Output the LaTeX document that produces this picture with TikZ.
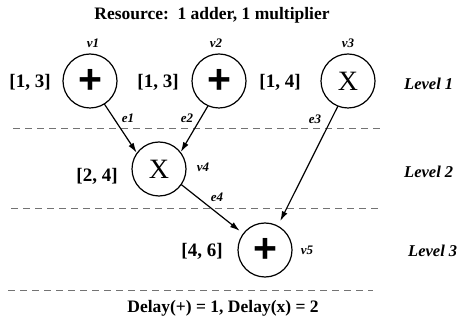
\documentclass[tikz,border=0pt]{standalone}
\usepackage{fontspec}
\setmainfont{Liberation Serif}
\newfontfamily\plusfont{Liberation Sans}
\usetikzlibrary{arrows.meta}

\begin{document}
\begin{tikzpicture}[x=1pt, y=-1pt, >={Latex[length=10pt,width=6pt]}, line cap=round, line join=round,
	opnode/.style={draw, circle, line width=1.2pt, minimum size=54pt, inner sep=0pt},
	addop/.style={opnode, font=\plusfont\bfseries\fontsize{41}{41}\selectfont},
	mulop/.style={opnode, font=\fontsize{28}{28}\selectfont},
	steprange/.style={font=\bfseries\fontsize{19}{19}\selectfont},
	vtag/.style={font=\bfseries\itshape\fontsize{13}{13}\selectfont},
	lvl/.style={anchor=west, inner xsep=0pt, font=\bfseries\itshape\fontsize{16.5}{16.5}\selectfont},
	levelsep/.style={black!55, line width=1pt, line cap=butt, dash pattern=on 7pt off 5pt},
	dep/.style={->, line width=1.2pt}]

\useasboundingbox (0,0) rectangle (457,328);

% ==== header and footer ====
\node[font=\bfseries\fontsize{17.5}{17.5}\selectfont] (title) at (212,15) {Resource:\ \ 1 adder, 1 multiplier};
\node[font=\bfseries\fontsize{17.5}{17.5}\selectfont] (delay) at (223,308) {Delay(+) = 1, Delay(x) = 2};

% ==== level separators ====
\draw[levelsep] (13,129) -- (380,129);
\draw[levelsep] (11,209) -- (378,209);
\draw[levelsep] (8,290) -- (373,290);

% ==== operations ====
\node[addop] (v1) at (90,81) {+};
\node[addop] (v2) at (219,81) {+};
\node[mulop] (v3) at (348,81) {X};
\node[mulop] (v4) at (159,169) {X};
\node[addop] (v5) at (265,250) {+};

% node names
\node[vtag] (t1) at (93,43) {v1};
\node[vtag] (t2) at (216,43) {v2};
\node[vtag] (t3) at (348,43) {v3};
\node[vtag] (t4) at (203,167) {v4};
\node[vtag] (t5) at (307,250) {v5};

% ASAP/ALAP ranges
\node[steprange] (r1) at (30,82) {[1, 3]};
\node[steprange] (r2) at (158,82) {[1, 3]};
\node[steprange] (r3) at (280,82) {[1, 4]};
\node[steprange] (r4) at (97,176) {[2, 4]};
\node[steprange] (r5) at (202,251) {[4, 6]};

% levels
\node[lvl] (l1) at (404,84) {Level 1};
\node[lvl] (l2) at (404,172) {Level 2};
\node[lvl] (l3) at (408,251) {Level 3};

% ==== edges ====
\draw[dep] (v1.-58) -- (v4.144);
\draw[dep] (v2.-114) -- (v4.38);
\draw[dep, shorten >=5pt] (v3.-112) -- (v5.62);
\draw[dep, shorten >=4pt] (v4.-35) -- (v5.143);

\node[vtag] (e1) at (128,118) {e1};
\node[vtag] (e2) at (187,118) {e2};
\node[vtag] (e3) at (315,119) {e3};
\node[vtag] (e4) at (217,197) {e4};

\end{tikzpicture}
\end{document}
